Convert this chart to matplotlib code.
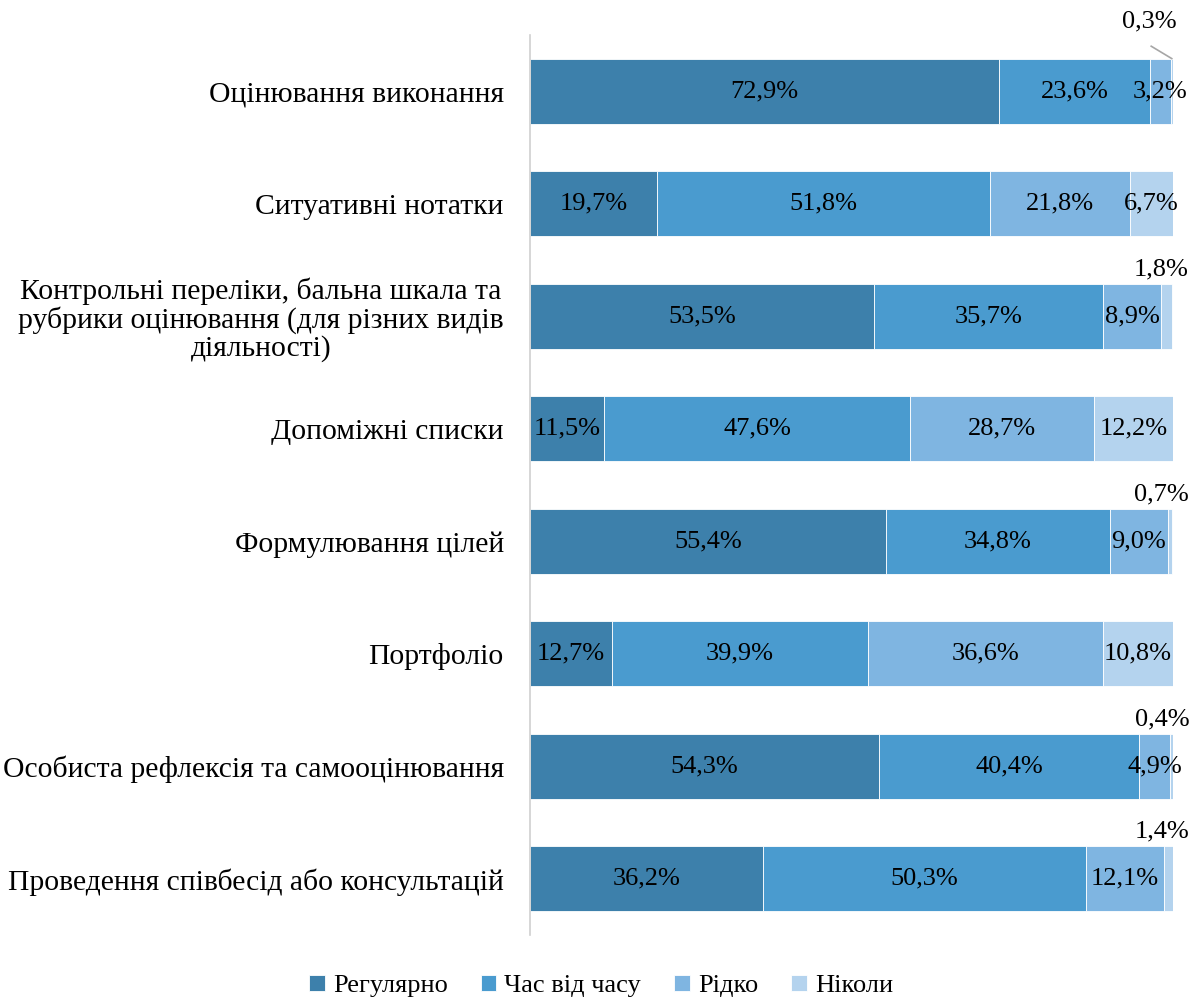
import matplotlib
matplotlib.use("Agg")
import matplotlib.pyplot as plt
import numpy as np

plt.rcParams['font.family'] = ['Liberation Serif', 'DejaVu Serif']

categories = [
    "Оцінювання виконання",
    "Ситуативні нотатки",
    "Контрольні переліки, бальна шкала та\nрубрики оцінювання (для різних видів\nдіяльності)",
    "Допоміжні списки",
    "Формулювання цілей",
    "Портфоліо",
    "Особиста рефлексія та самооцінювання",
    "Проведення співбесід або консультацій",
]
series_names = ["Регулярно", "Час від часу", "Рідко", "Ніколи"]
regularly = [72.9, 19.7, 53.5, 11.5, 55.4, 12.7, 54.3, 36.2]
sometimes = [23.6, 51.8, 35.7, 47.6, 34.8, 39.9, 40.4, 50.3]
rarely = [3.2, 21.8, 8.9, 28.7, 9.0, 36.6, 4.9, 12.1]
never = [0.3, 6.7, 1.8, 12.2, 0.7, 10.8, 0.4, 1.4]
colors = ["#3d80ab", "#4a9bcf", "#7fb5e1", "#b4d3ee"]

data = [regularly, sometimes, rarely, never]

fig = plt.figure(figsize=(11.9, 9.99), dpi=100)
ax = fig.add_axes([0.4455, 0.064, 0.54, 0.901])

LBL = 19
y = np.arange(len(categories))
left = np.zeros(len(categories))
for si, (vals, col, name) in enumerate(zip(data, colors, series_names)):
    vals = np.array(vals)
    ax.barh(y, vals, left=left, height=0.58, color=col, edgecolor='white',
            linewidth=0.6, label=name)
    for i, v in enumerate(vals):
        txt = f"{v:.1f}%".replace('.', ',')
        cx = left[i] + v / 2
        if si == 3 and v < 2.5:
            if i == 0:
                ax.text(cx - 3.5, i - 0.52, txt, ha='center', va='bottom', fontsize=LBL)
                ax.plot([cx - 3.2, cx], [i - 0.4, i - 0.29], color='#a6a6a6', lw=1.2)
            else:
                ax.text(left[i] + v - 1.7, i - 0.32, txt, ha='center', va='bottom', fontsize=LBL)
        else:
            ax.text(cx, i, txt, ha='center', va='center', fontsize=LBL)
    left = left + vals

ax.set_xlim(0, 100)
ax.set_ylim(len(categories) - 0.5, -0.5)
ax.set_yticks(y)
ax.set_yticklabels(categories, fontsize=21.3, multialignment='center', linespacing=1.05)
ax.tick_params(axis='y', length=0, pad=19)
ax.set_xticks([])
for s in ['top', 'right', 'bottom']:
    ax.spines[s].set_visible(False)
ax.spines['left'].set_color('#d0d0d0')
ax.spines['left'].set_linewidth(1.2)

fig.legend(loc='lower center', ncol=4, bbox_to_anchor=(0.505, -0.022), frameon=False,
           fontsize=19, handlelength=0.6, handleheight=0.6, handletextpad=0.3,
           columnspacing=1.25)

fig.savefig("out.png", dpi=100)
